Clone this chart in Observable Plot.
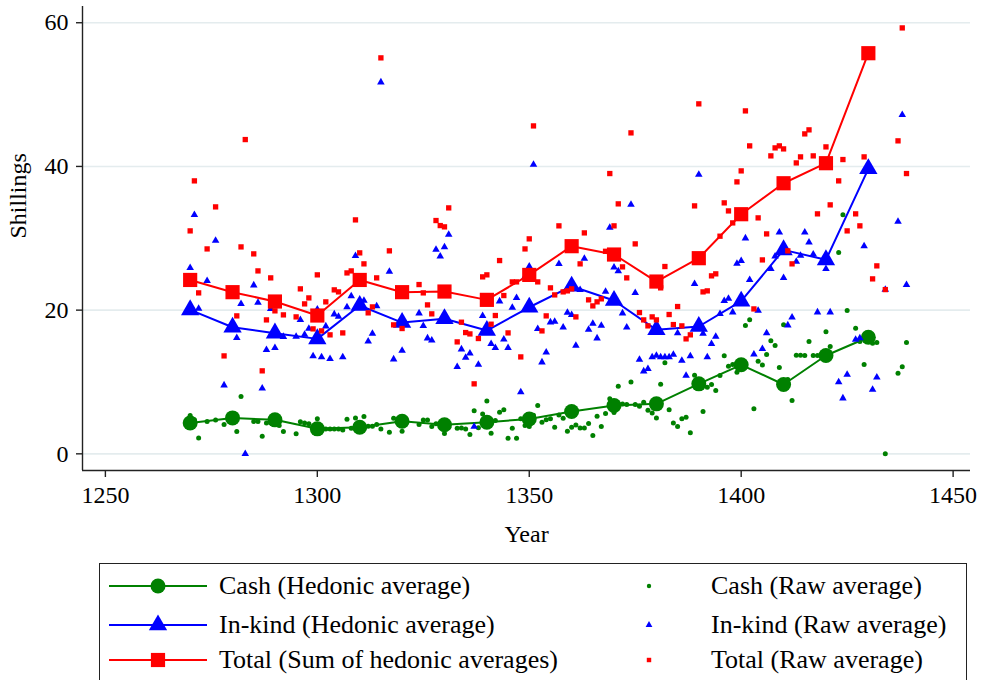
<!DOCTYPE html>
<html>
<head>
<meta charset="utf-8">
<script src="https://cdn.jsdelivr.net/npm/d3@7"></script>
<script src="https://cdn.jsdelivr.net/npm/@observablehq/plot@0.6"></script>
<style>
  html, body { margin: 0; padding: 0; background: #fff; overflow: hidden; }
  #wrap { position: relative; width: 984px; height: 680px; font-family: "Liberation Serif", "Times New Roman", serif; }
  #legend { position: absolute; left: 99px; top: 563px; width: 868px; height: 140px; border: 1.3px solid #222; box-sizing: border-box; }
  .item { position: absolute; display: flex; align-items: center; font-size: 26px; color: #000; white-space: nowrap; }
  .item svg { display: block; }
</style>
</head>
<body>
<div id="wrap"><div id="chart"></div><div id="legend"></div></div>
<script>
// Hedonic (decadal) averages
const hedYears   = [1270,1280,1290,1300,1310,1320,1330,1340,1350,1360,1370,1380,1390,1400,1410,1420,1430];
const hedCash    = [4.3,5.0,4.73,3.48,3.7,4.54,4.04,4.4,4.85,5.89,6.72,6.96,9.74,12.39,9.65,13.68,16.23];
const hedInKind  = [20.04,17.62,16.79,16.0,20.64,18.27,18.79,17.16,20.4,23.33,21.34,17.26,17.72,21.24,28.39,27.0,39.67];
const hedTotal   = [24.2,22.5,21.2,19.25,24.2,22.5,22.59,21.43,24.9,28.9,27.74,23.98,27.23,33.35,37.66,40.45,55.76];

// Raw yearly averages
const rawYears  = [1270,1271,1272,1274,1276,1278,1281,1282,1283,1285,1286,1287,1288,1289,1290,1291,1292,1295,1296,1297,1298,1299,1300,1301,1302,1303,1304,1305,1306,1307,1308,1309,1310,1311,1312,1313,1314,1315,1317,1318,1320,1324,1325,1326,1327,1328,1329,1330,1331,1333,1334,1335,1336,1337,1338,1339,1340,1341,1342,1343,1344,1345,1346,1347,1348,1349,1350,1351,1352,1353,1354,1355,1356,1357,1358,1359,1360,1361,1362,1363,1364,1365,1366,1367,1368,1369,1370,1371,1372,1373,1374,1375,1376,1377,1378,1379,1380,1381,1382,1383,1384,1385,1386,1387,1388,1389,1390,1391,1392,1393,1394,1395,1396,1397,1398,1399,1400,1401,1402,1403,1404,1405,1406,1407,1408,1409,1410,1411,1412,1413,1414,1415,1416,1417,1418,1420,1421,1423,1424,1425,1427,1428,1429,1431,1432,1434,1437,1438,1439];
const rawCash   = [5.33,4.73,2.22,4.5,4.72,4.08,3.1,7.97,null,4.5,4.5,2.45,4.3,4.32,5.15,3.94,3.1,2.78,4.45,4.3,4.17,3.8,4.87,3.66,3.47,3.47,3.47,3.47,3.3,4.82,3.56,5.0,4.22,5.19,3.84,3.84,4.07,3.47,3.0,4.96,3.15,4.07,4.72,4.72,3.8,4.17,4.27,2.82,3.71,3.56,3.6,3.47,2.7,5.98,3.62,5.56,7.37,2.87,4.63,5.79,6.12,2.17,3.56,2.17,4.87,3.94,3.8,5.38,6.72,4.4,4.73,4.87,3.7,5.42,4.96,3.15,3.7,4.03,3.61,3.61,4.22,2.54,5.24,3.8,5.6,7.65,5.76,9.41,6.95,6.85,10.01,6.85,6.63,7.18,6.07,5.7,5.0,9.69,12.66,6.12,4.3,3.8,4.87,5.1,2.92,10.94,9.84,5.89,9.27,9.64,8.81,10.9,13.64,12.2,12.43,11.37,12.52,17.85,18.65,6.26,12.9,12.38,13.82,15.73,15.08,12.02,17.95,10.35,7.43,13.73,13.73,13.69,15.64,13.69,13.69,16.98,14.94,28.01,33.26,19.94,17.48,15.63,12.43,15.4,15.5,0,11.23,12.11,15.5];
const rawInKind = [25.88,33.26,20.22,24.07,29.69,9.55,16.14,20.87,0,23.47,21.06,9.13,14.47,20.17,14.75,null,16.3,16.32,18.64,16.6,17.44,13.59,20.1,13.45,17.76,13.22,19.43,19.11,13.45,20.41,21.94,27.55,23.75,21.33,15.67,16.74,20.55,51.72,25.37,13.17,14.37,19.57,17.81,16.09,15.81,28.43,27.5,28.76,30.52,12.1,14.56,13.4,14.0,3.8,12.43,19.2,17.54,15.3,14.75,21.24,15.95,14.75,20.36,21.7,8.58,24.67,26.11,40.26,17.39,12.75,14.14,18.32,18.4,26.44,17.62,19.66,19.34,15.07,22.82,27.18,17.3,18.13,16.09,17.85,22.59,31.49,25.97,25.42,19.57,17.62,34.7,22.4,13.12,11.5,11.82,13.45,13.68,13.45,13.45,13.45,13.82,16.79,12.98,10.9,13.59,23.65,38.87,16.74,13.45,15.3,16.32,19.48,21.29,21.61,19.71,26.48,26.86,30.01,24.21,13.86,19.94,14.61,16.79,25.74,27.5,30.84,24.49,17.9,19.01,26.76,27.6,30.84,29.45,27.78,19.71,25.74,19.71,9.97,7.74,11.03,15.91,16.1,28.9,8.95,10.66,22.86,32.33,47.17,23.51];
const rawTotal  = [31.03,37.99,22.4,28.52,34.37,13.63,19.2,28.8,43.74,27.83,25.46,11.55,18.64,24.49,19.9,null,19.34,19.06,22.96,20.87,21.7,17.39,24.91,17.11,21.15,16.56,22.82,22.54,16.83,25.18,25.46,32.56,27.97,26.44,19.62,20.45,24.49,55.11,28.25,17.95,17.44,23.56,22.4,20.73,19.48,32.47,31.77,31.59,34.23,15.58,18.32,16.88,16.69,9.74,16.05,24.63,24.91,18.04,19.25,26.9,22.03,16.83,23.93,23.93,13.49,28.52,29.92,45.64,23.93,17.11,19.2,23.1,22.12,31.73,22.54,22.68,22.96,19.06,26.44,30.75,21.43,20.59,21.15,21.57,28.19,39.01,31.73,34.79,26.02,24.49,44.67,29.22,19.66,18.64,17.81,19.06,18.64,23.1,26.07,19.39,17.99,20.5,17.81,16.0,16.56,34.51,48.71,22.54,22.68,24.77,25.05,30.29,34.93,33.81,32.14,37.85,39.38,47.73,42.86,20.17,32.84,26.99,30.61,41.47,42.58,42.86,42.44,28.25,26.44,40.49,41.33,44.53,45.09,41.47,33.4,42.72,34.65,37.99,40.96,31.03,33.4,31.73,41.33,24.35,26.16,22.86,43.56,59.28,39.01];

const xTicks = [1250,1300,1350,1400,1450];
const yTicks = [0,20,40,60];

const GREEN = "#008000", BLUE = "#0000ff", RED = "#ff0000";
const xDom = [1244.6, 1454.1], yDom = [-2.32, 62.26];

const hed = hedYears.map((y,i) => ({year: y, cash: hedCash[i], inkind: hedInKind[i], total: hedTotal[i]}));
const raw = rawYears.map((y,i) => ({year: y, cash: rawCash[i], inkind: rawInKind[i], total: rawTotal[i]}));

const chart = Plot.plot({
  width: 984,
  height: 560,
  marginLeft: 82,
  marginRight: 14,
  marginTop: 6,
  marginBottom: 90,
  style: {fontFamily: "Liberation Serif, Times New Roman, serif", fontSize: "24px", color: "#000", background: "#fff"},
  x: {domain: xDom},
  y: {domain: yDom},
  marks: [
    Plot.ruleY(yTicks, {stroke: "#e4ecee", strokeWidth: 1.6}),
    Plot.ruleX([xDom[0]], {stroke: "#222", strokeWidth: 1.4}),
    Plot.ruleY([yDom[0]], {stroke: "#222", strokeWidth: 1.4}),
    Plot.axisY({ticks: yTicks, tickSize: 6, tickPadding: 8, fontSize: 24, label: null, tickFormat: d => String(d), stroke: "#222", strokeWidth: 1.4}),
    Plot.axisX({ticks: xTicks, tickSize: 7, tickPadding: 8, fontSize: 24, label: null, tickFormat: d => String(d), stroke: "#222", strokeWidth: 1.4}),
    Plot.text(["Shillings"], {frameAnchor: "left", dx: -64, rotate: -90, fontSize: 24, fill: "#000"}),
    Plot.text(["Year"], {frameAnchor: "bottom", dy: 71, fontSize: 24, fill: "#000"}),
    // Cash
    Plot.line(hed, {x: "year", y: "cash", stroke: GREEN, strokeWidth: 2}),
    Plot.dot(hed, {x: "year", y: "cash", r: 7.5, fill: GREEN, symbol: "circle"}),
    Plot.dot(raw, {x: "year", y: "cash", r: 2.5, fill: GREEN, symbol: "circle"}),
    // In-kind
    Plot.line(hed, {x: "year", y: "inkind", stroke: BLUE, strokeWidth: 2}),
    Plot.dot(hed, {x: "year", y: "inkind", r: 6.8, fill: BLUE, symbol: "triangle"}),
    Plot.dot(raw, {x: "year", y: "inkind", r: 2.8, fill: BLUE, symbol: "triangle"}),
    // Total
    Plot.line(hed, {x: "year", y: "total", stroke: RED, strokeWidth: 2}),
    Plot.dot(hed, {x: "year", y: "total", r: 8, fill: RED, symbol: "square"}),
    Plot.dot(raw, {x: "year", y: "total", r: 3, fill: RED, symbol: "square"})
  ]
});
document.getElementById("chart").appendChild(chart);

// Legend
const legendItems = [
  {label: "Cash (Hedonic average)", color: GREEN, sym: "circle", big: true, col: 0, row: 0},
  {label: "In-kind (Hedonic average)", color: BLUE, sym: "triangle", big: true, col: 0, row: 1},
  {label: "Total (Sum of hedonic averages)", color: RED, sym: "square", big: true, col: 0, row: 2},
  {label: "Cash (Raw average)", color: GREEN, sym: "circle", big: false, col: 1, row: 0},
  {label: "In-kind (Raw average)", color: BLUE, sym: "triangle", big: false, col: 1, row: 1},
  {label: "Total (Raw average)", color: RED, sym: "square", big: false, col: 1, row: 2}
];
const legend = document.getElementById("legend");
const rowY = [22, 61, 96];
function symbolPath(sym, r) {
  const map = {circle: d3.symbolCircle, triangle: d3.symbolTriangle, square: d3.symbolSquare};
  return d3.symbol(map[sym], r * r * Math.PI)();
}
legendItems.forEach(it => {
  const div = document.createElement("div");
  div.className = "item";
  const swW = it.col === 0 ? 98 : 20;
  const left = it.col === 0 ? 9 : 539;
  div.style.left = left + "px";
  div.style.top = (rowY[it.row] - 16) + "px";
  div.style.height = "32px";
  const ns = "http://www.w3.org/2000/svg";
  const svg = document.createElementNS(ns, "svg");
  svg.setAttribute("width", swW);
  svg.setAttribute("height", 32);
  if (it.col === 0) {
    const ln = document.createElementNS(ns, "line");
    ln.setAttribute("x1", 0); ln.setAttribute("x2", swW);
    ln.setAttribute("y1", 16); ln.setAttribute("y2", 16);
    ln.setAttribute("stroke", it.color); ln.setAttribute("stroke-width", 2);
    svg.appendChild(ln);
  }
  const p = document.createElementNS(ns, "path");
  const r = it.big ? (it.sym === "circle" ? 7.5 : it.sym === "triangle" ? 6.8 : 8) : (it.sym === "circle" ? 2.2 : 2.5);
  p.setAttribute("d", symbolPath(it.sym, r));
  p.setAttribute("transform", `translate(${swW / 2},16)`);
  p.setAttribute("fill", it.color);
  svg.appendChild(p);
  div.appendChild(svg);
  const span = document.createElement("span");
  span.textContent = it.label;
  span.style.marginLeft = it.col === 0 ? "12px" : "52px";
  div.appendChild(span);
  legend.appendChild(div);
});
</script>
</body>
</html>
